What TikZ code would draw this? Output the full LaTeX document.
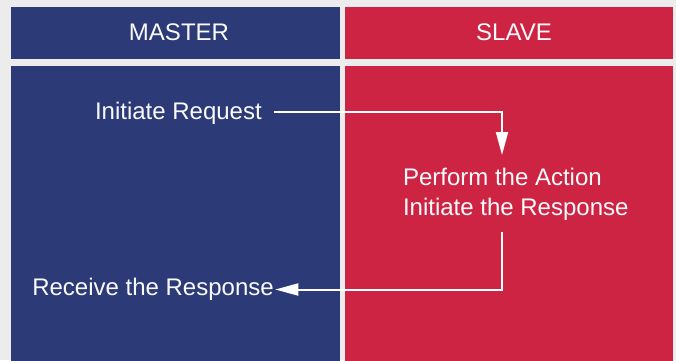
\documentclass[tikz,border=0pt]{standalone}
\usepackage{fontspec}
\setmainfont{Liberation Sans}
\usetikzlibrary{arrows.meta}
\definecolor{mblue}{RGB}{44,58,119}
\definecolor{sred}{RGB}{206,36,68}
\definecolor{bggray}{RGB}{236,236,236}
\definecolor{txt}{RGB}{250,250,252}
\begin{document}
\begin{tikzpicture}[x=1pt,y=-1pt,
  panel/.style={draw=none,inner sep=0pt,outer sep=0pt,anchor=north west},
  lbl/.style={text=txt,inner sep=0pt,outer sep=0pt,font=\fontsize{24}{28}\selectfont},
  flow/.style={draw=white,line width=2pt,-{Triangle[length=23pt,width=12pt]}}]
\fill[bggray] (0,0) rectangle (676,360);
\useasboundingbox (0,0) rectangle (676,360);
% panels
\node[panel,fill=mblue,minimum width=329pt,minimum height=52pt] (mh) at (11,7) {};
\node[panel,fill=sred,minimum width=328pt,minimum height=52pt] (sh) at (345,7) {};
\node[panel,fill=mblue,minimum width=328.5pt,minimum height=295pt] (mb) at (11,65.5) {};
\node[panel,fill=sred,minimum width=328pt,minimum height=295pt] (sb) at (345,65.5) {};
% headers
\node[lbl,anchor=base] (master) at (179,40.7) {MASTER};
\node[lbl,anchor=base] (slave) at (514,40.7) {SLAVE};
% texts
\node[lbl,anchor=base west] (req) at (95,119.3) {Initiate Request};
\node[lbl,anchor=base west] (perf) at (403,185) {Perform the Action};
\node[lbl,anchor=base west] (init) at (403,215.5) {Initiate the Response};
\node[lbl,anchor=base west] (recv) at (32.3,295.7) {Receive the Response};
% connector points
\coordinate (a1) at (274,112);
\coordinate (t1) at (502,155);
\coordinate (s2) at (502,232);
\draw[flow] (a1) -| (t1);
\draw[flow,shorten >=1.5pt] (s2) |- (recv.east);
\end{tikzpicture}
\end{document}
